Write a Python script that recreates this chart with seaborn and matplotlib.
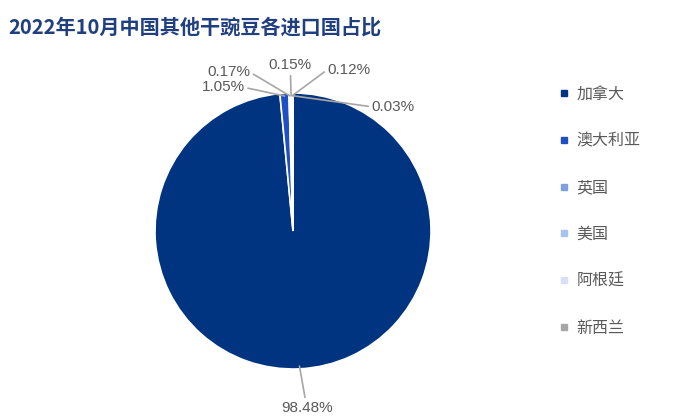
import numpy as np
import matplotlib
matplotlib.use("Agg")
import matplotlib.pyplot as plt
import seaborn as sns

countries = ["加拿大", "澳大利亚", "英国", "美国", "阿根廷", "新西兰"]
shares = [98.48, 1.05, 0.17, 0.15, 0.12, 0.03]
labels = ["98.48%", "1.05%", "0.17%", "0.15%", "0.12%", "0.03%"]
colors = ["#003380", "#1f4fc4", "#7f9fe0", "#a9c1f0", "#d6e1f7", "#a6a6a6"]

# label text positions (pie radius = 1) and alignment
label_pos = [(0.10, -1.28), (-0.35, 1.04), (-0.31, 1.15), (-0.02, 1.20), (0.25, 1.17), (0.57, 0.90)]
label_ha = ["center", "right", "right", "center", "left", "left"]

sns.set_theme(style="white")
plt.rcParams["font.family"] = ["Noto Sans CJK SC", "DejaVu Sans"]

fig = plt.figure(figsize=(7, 4.2), dpi=100)
ax = fig.add_axes([155 / 700, (420 - 369) / 420, 276 / 700, 276 / 420])

wedges, _ = ax.pie(shares, colors=colors, startangle=90, counterclock=False,
                   wedgeprops=dict(edgecolor="white", linewidth=1.2))
ax.set_xlim(-1, 1)
ax.set_ylim(-1, 1)
ax.set_aspect("equal")

for w, lab, pos, ha in zip(wedges, labels, label_pos, label_ha):
    mid = np.deg2rad((w.theta1 + w.theta2) / 2)
    r = 0.98
    xy = (r * np.cos(mid), r * np.sin(mid))
    relx = {"left": 0.0, "right": 1.0, "center": 0.5}[ha]
    ax.annotate(lab, xy=xy, xytext=pos, ha=ha, va="center", fontsize=11,
                color="#595959", family=["Liberation Sans", "DejaVu Sans"],
                annotation_clip=False,
                arrowprops=dict(arrowstyle="-", color="#a6a6a6", lw=1.2,
                                shrinkA=0, shrinkB=0, relpos=(relx, 0.5)))

handles = [plt.Line2D([], [], marker="s", linestyle="", markersize=4.5,
                      markerfacecolor=c, markeredgecolor=c) for c in colors]
fig.legend(handles, countries, loc="upper left", bbox_to_anchor=(554 / 700, 1 - 79 / 420),
           frameon=False, fontsize=11.5, labelcolor="#595959", handlelength=0.5,
           handletextpad=0.5, labelspacing=1.87, borderaxespad=0)

fig.text(8 / 700, 1 - 27 / 420, "2022年10月中国其他干豌豆各进口国占比", fontsize=14.5,
         fontweight="bold", color="#1f3f7f", va="center", ha="left")

fig.savefig("out.png", dpi=100)
